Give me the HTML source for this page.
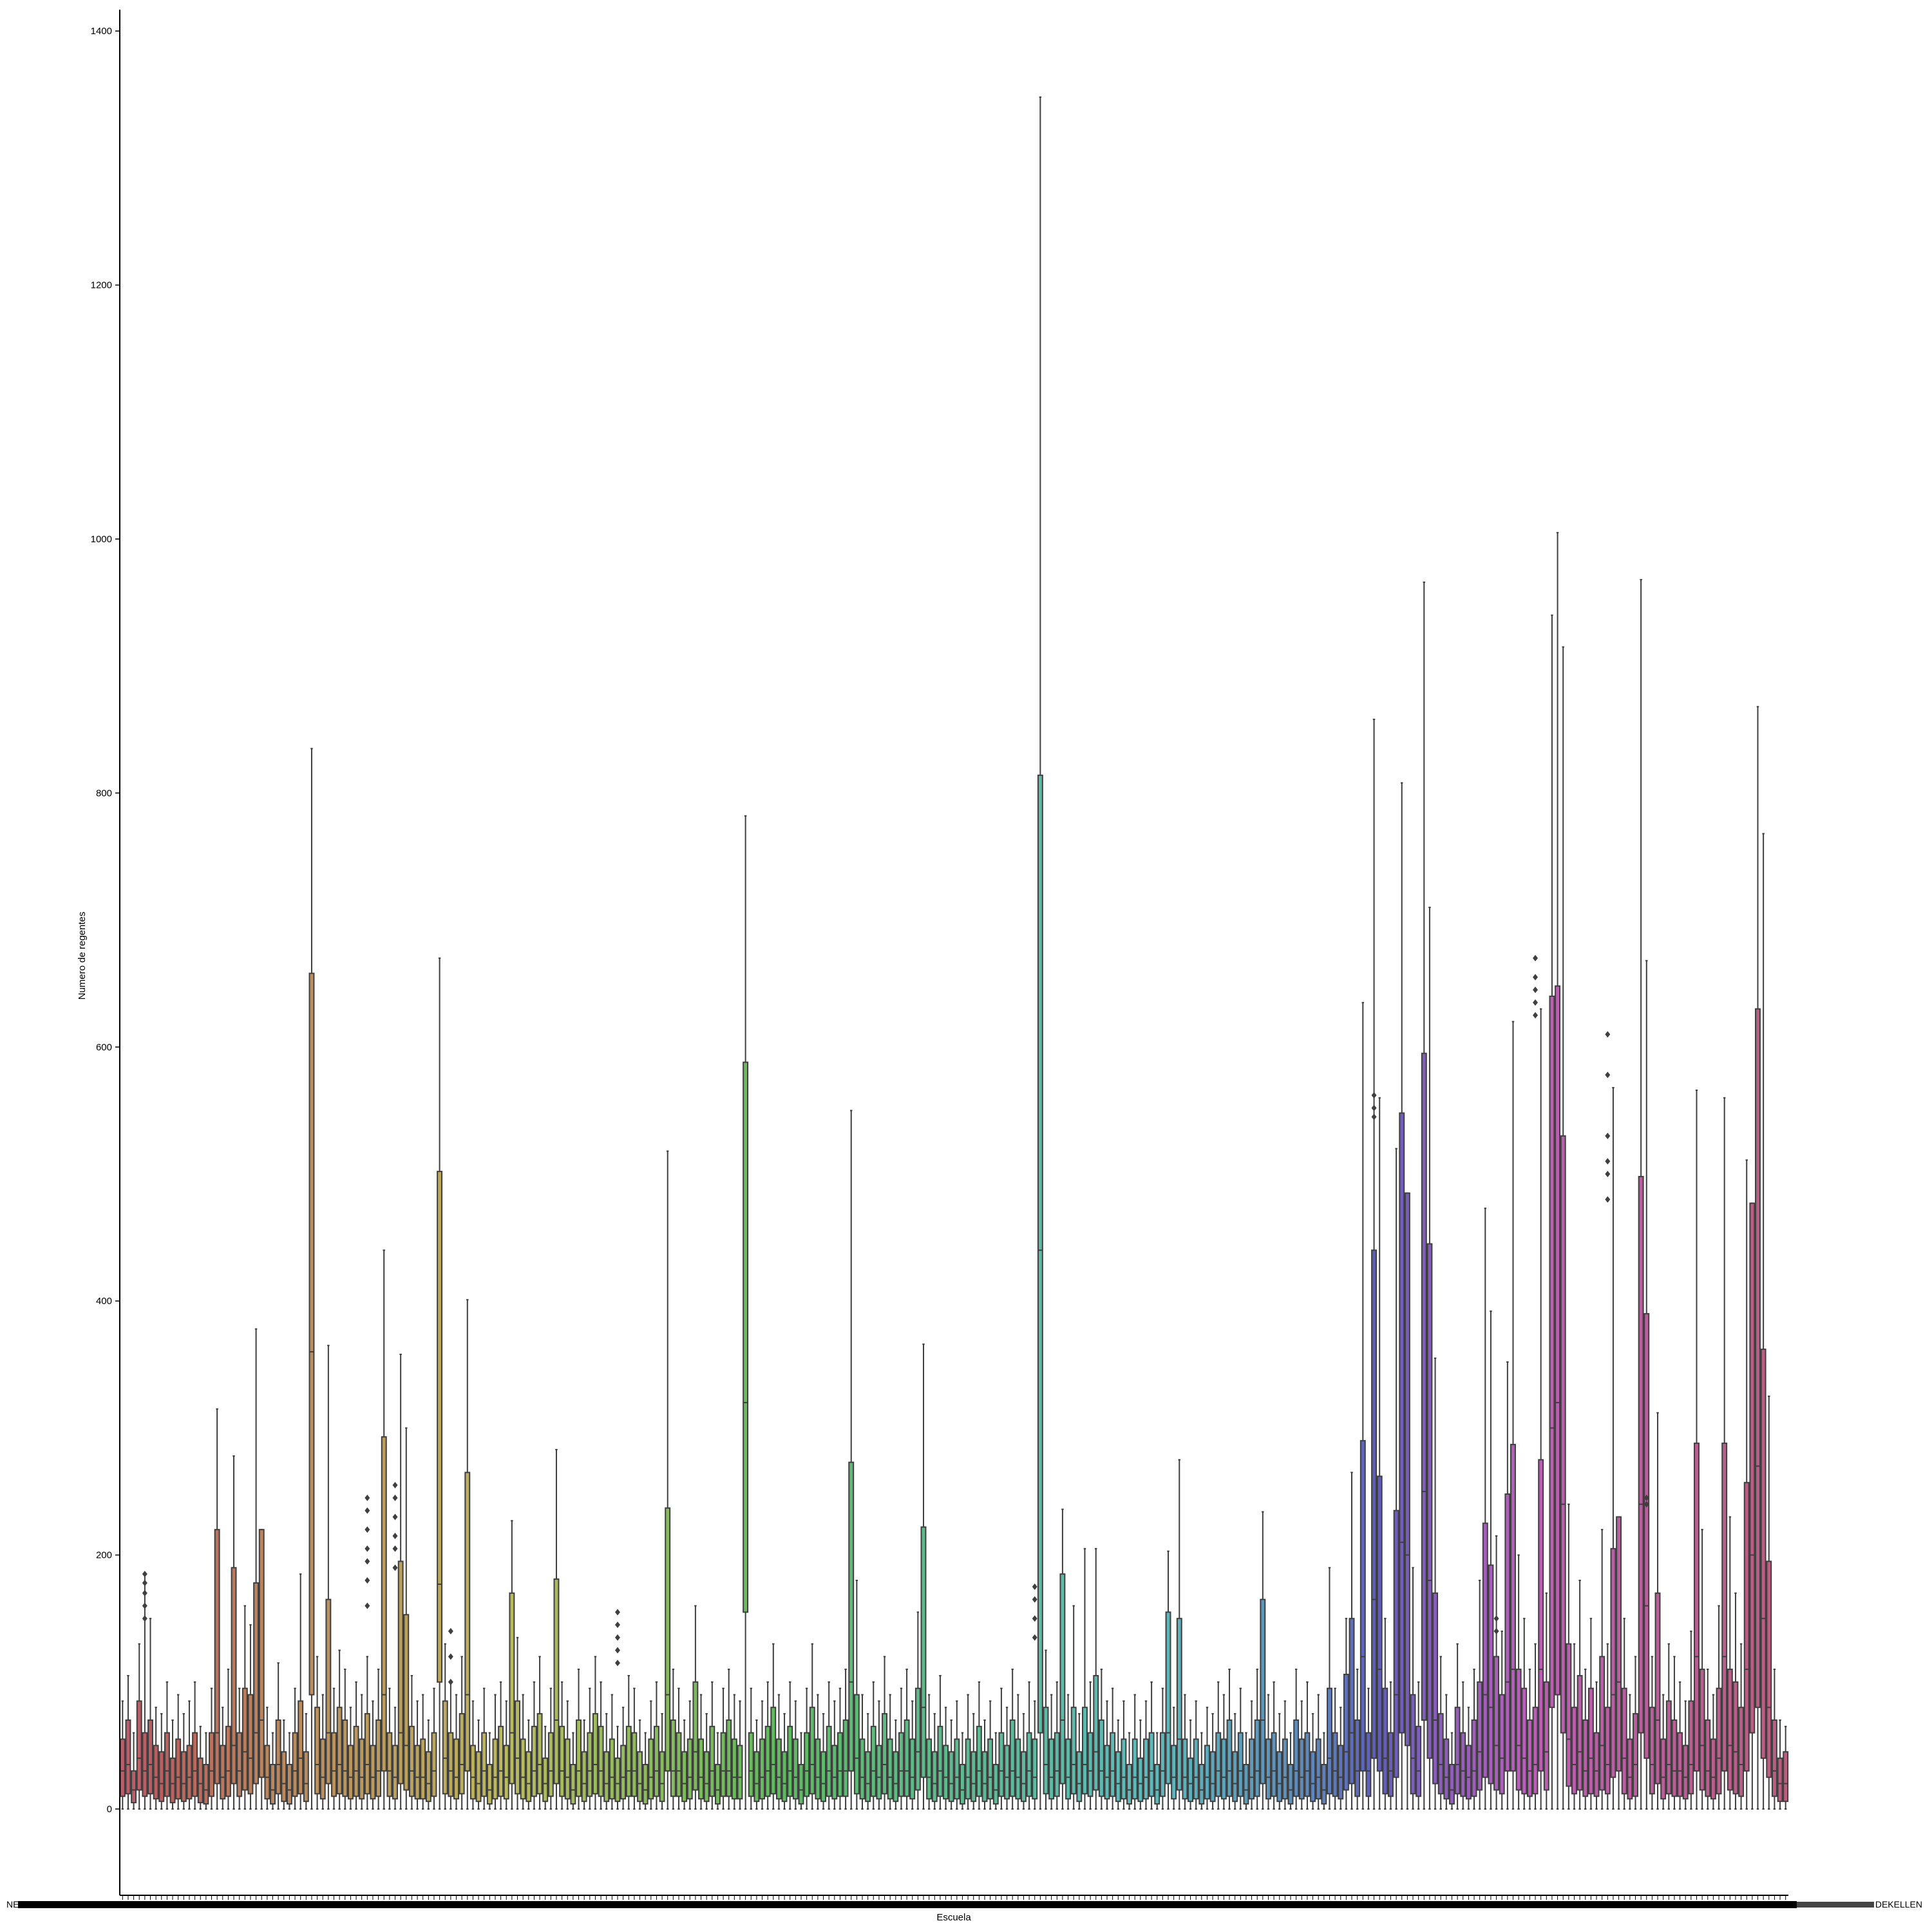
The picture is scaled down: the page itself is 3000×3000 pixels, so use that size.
<!DOCTYPE html>
<html><head><meta charset="utf-8"><style>
html,body{margin:0;padding:0;background:#fff;}
svg{display:block;font-family:"Liberation Sans","DejaVu Sans",sans-serif;}
</style></head><body>
<svg id="chart" width="3000" height="3000" viewBox="0 0 3000 3000" xmlns="http://www.w3.org/2000/svg">
<rect width="3000" height="3000" fill="#fff"/>
<g id="marks"></g>
<g id="axes"></g>
</svg>
<script>
const hiW=[85,105,60,130,185,150,80,75,100,70,90,75,85,100,65,60,95,315,80,110,278,95,160,145,378,220,80,60,115,70,60,95,185,75,835,120,90,365,95,125,110,80,100,90,120,85,110,440,95,80,358,300,105,85,90,70,95,670,130,100,90,120,401,85,70,95,60,90,100,85,227,135,90,70,100,120,65,95,283,100,85,60,110,70,95,120,100,75,90,65,80,105,95,70,60,85,100,75,518,110,95,70,85,160,90,75,100,60,95,110,90,85,782,95,70,85,100,130,90,75,100,85,60,95,130,90,75,100,85,95,110,550,180,90,75,100,85,120,90,70,95,110,85,155,366,90,75,105,80,70,85,60,90,75,100,70,85,60,95,80,110,90,75,100,85,1348,125,90,100,236,90,160,75,205,100,205,110,85,95,70,85,60,90,70,85,100,60,95,203,80,275,90,70,85,60,80,75,100,90,110,75,95,60,85,110,234,90,100,75,85,60,110,85,100,75,90,60,190,95,80,150,265,110,635,95,858,560,150,100,520,808,485,190,100,966,710,355,120,90,60,130,100,80,110,180,473,392,215,140,352,620,200,150,110,130,630,170,940,1005,915,240,130,180,110,150,100,220,130,568,230,150,90,120,968,668,120,312,90,130,120,100,85,140,566,220,110,90,160,560,230,170,130,511,477,868,768,325,110,70,65];
const q3=[55,70,30,85,60,70,50,45,60,40,55,45,50,60,40,35,60,220,50,65,190,60,95,90,178,220,50,35,70,45,35,60,85,45,658,80,55,165,60,80,70,50,65,55,75,50,70,293,60,50,195,153,65,50,55,45,60,502,85,60,55,75,265,50,45,60,35,55,65,50,170,85,55,45,65,75,40,60,181,65,55,35,70,45,60,75,65,45,55,40,50,65,60,45,35,55,65,45,237,70,60,45,55,100,55,45,65,35,60,70,55,50,588,60,45,55,65,80,55,45,65,55,35,60,80,55,45,65,50,60,70,273,90,55,45,65,50,75,55,45,60,70,55,95,222,55,45,65,50,45,55,35,55,45,65,45,55,35,60,50,70,55,45,60,55,814,80,55,60,185,55,80,45,80,60,105,70,50,60,45,55,35,55,40,55,60,35,60,155,50,150,55,40,55,35,50,45,60,55,70,45,60,35,55,70,165,55,60,45,55,35,70,55,60,45,55,35,95,60,50,106,150,70,290,60,440,262,95,60,235,548,485,90,65,595,445,170,75,55,35,80,60,50,70,100,225,192,120,90,248,287,110,95,70,80,275,100,640,648,530,130,80,105,70,95,60,120,80,205,230,95,55,75,498,390,80,170,55,85,70,60,50,85,288,110,70,55,95,288,110,100,80,257,477,630,362,195,70,40,45];
const med=[30,35,15,40,30,35,25,20,30,20,25,20,25,30,20,15,30,60,25,30,50,30,45,40,60,70,25,15,35,20,15,30,40,20,360,35,25,60,30,35,30,25,30,25,35,25,30,90,30,25,60,50,30,25,25,20,30,177,40,30,25,35,90,25,20,30,15,25,30,25,60,40,25,20,30,35,20,30,70,30,25,15,30,20,30,35,30,20,25,20,25,30,30,20,15,25,30,20,90,30,30,20,25,45,25,20,30,15,30,30,25,25,320,30,20,25,30,35,25,20,30,25,15,30,35,25,20,30,25,30,30,100,40,25,20,30,25,35,25,20,30,30,25,45,80,25,20,30,25,20,25,15,25,20,30,20,25,15,30,25,30,25,20,30,25,440,35,25,30,70,25,35,20,35,30,45,30,25,30,20,25,15,25,20,25,30,15,30,60,25,55,25,20,25,15,25,20,30,25,30,20,30,15,25,30,70,25,30,20,25,15,30,25,30,20,25,15,40,30,25,45,60,30,120,30,165,110,40,30,90,210,200,40,30,250,180,70,35,25,15,35,30,25,30,45,90,80,50,40,100,110,50,40,30,35,110,45,300,320,240,55,35,45,30,40,30,50,35,90,100,40,25,35,240,160,35,70,25,35,30,30,25,35,120,50,30,25,40,120,50,45,35,110,200,270,150,80,30,20,20];
const q1=[10,12,5,15,10,12,8,6,10,5,8,6,8,10,5,4,10,20,8,10,20,10,15,12,20,25,8,4,12,6,4,10,12,6,90,12,8,20,10,12,10,8,10,8,12,8,10,30,10,8,20,15,10,8,8,6,10,100,12,10,8,12,30,8,6,10,4,8,10,8,20,12,8,6,10,12,6,10,20,10,8,4,10,6,10,12,10,6,8,6,8,10,10,6,4,8,10,6,30,10,10,6,8,15,8,6,10,4,10,10,8,8,155,10,6,8,10,12,8,6,10,8,4,10,12,8,6,10,8,10,10,30,12,8,6,10,8,12,8,6,10,10,8,15,25,8,6,10,8,6,8,4,8,6,10,6,8,4,10,8,10,8,6,10,8,60,12,8,10,20,8,12,6,12,10,15,10,8,10,6,8,4,8,6,8,10,4,10,20,8,15,8,6,8,4,8,6,10,8,10,6,10,4,8,10,20,8,10,6,8,4,10,8,10,6,8,4,12,10,8,15,20,10,30,10,40,30,12,10,25,60,50,12,10,70,40,20,12,8,4,12,10,8,10,15,25,20,15,12,30,30,15,12,10,12,30,15,80,90,60,18,12,15,10,12,10,15,12,25,30,12,8,10,60,40,12,20,8,12,10,10,8,12,30,15,10,8,12,30,15,12,10,30,60,80,40,25,10,6,6];
const flierIdx=[4,4,4,4,4,44,44,44,44,44,44,44,49,49,49,49,49,49,59,59,59,89,89,89,89,89,164,164,164,164,225,225,225,247,247,254,254,254,254,254,267,267,267,267,267,267,274,274];
const flierVal=[150,160,170,178,185,160,180,195,205,220,235,245,190,205,215,230,245,255,100,120,140,115,125,135,145,155,135,150,165,175,545,552,562,140,150,625,635,645,655,670,480,500,510,530,578,610,240,245];
const yTicks=[0,200,400,600,800,1000,1200,1400];

const NS="http://www.w3.org/2000/svg";
const X0=186,X1=2777,Y0=2809,PX=1.972,N=hiW.length,SLOT=(X1-X0)/N;
function y(v){return Y0-v*PX;}
function xc(i){return X0+SLOT*(i+0.5);}
const hs=[[0,350],[25,385],[60,410],[95,450],[135,500],[190,545],[215,575],[235,625],[255,665],[300,700]];
function hue(i){for(let k=0;k<hs.length-1;k++){if(i<=hs[k+1][0]){const t=(i-hs[k][0])/(hs[k+1][0]-hs[k][0]);return (hs[k][1]+t*(hs[k+1][1]-hs[k][1]))%360;}}return 340;}
function mk(tag,attrs,parent){const e=document.createElementNS(NS,tag);for(const k in attrs)e.setAttribute(k,attrs[k]);parent.appendChild(e);return e;}
const g=document.getElementById('marks');
const st='#3f3f3f';
for(let i=0;i<N;i++){
  const cx=xc(i),w=SLOT*0.8;
  const bg=mk('g',{},g);
  
  
  mk('line',{x1:cx,x2:cx,y1:y(q3[i]),y2:y(hiW[i]),stroke:st,'stroke-width':2},bg);
  mk('line',{x1:cx,x2:cx,y1:y(q1[i]),y2:y(0),stroke:st,'stroke-width':2},bg);
  mk('line',{x1:cx-w/4,x2:cx+w/4,y1:y(hiW[i]),y2:y(hiW[i]),stroke:st,'stroke-width':2},bg);
  mk('line',{x1:cx-w/4,x2:cx+w/4,y1:y(0),y2:y(0),stroke:st,'stroke-width':2},bg);
  mk('rect',{x:cx-w/2,y:y(q3[i]),width:w,height:Math.max(1,y(q1[i])-y(q3[i])),fill:'hsl('+hue(i)+',40%,55%)',stroke:st,'stroke-width':2},bg);
  mk('line',{x1:cx-w/2,x2:cx+w/2,y1:y(med[i]),y2:y(med[i]),stroke:st,'stroke-width':2},bg);
}
for(let j=0;j<flierIdx.length;j++){
  const c=mk('path',{d:'M'+xc(flierIdx[j])+' '+(y(flierVal[j])-5)+' l4 5 l-4 5 l-4 -5 z',fill:st},g);
  
  
}
const a=document.getElementById('axes');
const ls=mk('line',{x1:X0,x2:X0,y1:15,y2:2943,stroke:'#000','stroke-width':2},a);


const bs=mk('line',{x1:X0,x2:X1,y1:2943,y2:2943,stroke:'#000','stroke-width':2},a);


yTicks.forEach(v=>{
  mk('line',{x1:X0-7,x2:X0,y1:y(v),y2:y(v),stroke:'#000','stroke-width':1.5},a);
  const t=mk('text',{x:X0-12,y:y(v)+5,'text-anchor':'end','font-size':15,fill:'#000'},a);
  t.textContent=v;
  
  
});
for(let i=0;i<N;i++){mk('line',{x1:xc(i),x2:xc(i),y1:2943,y2:2950,stroke:'#000','stroke-width':1},a);}
const band=mk('rect',{x:28,y:2952,width:2762,height:11,fill:'#000'},a);


const band2=mk('rect',{x:2790,y:2953,width:120,height:9,fill:'#444'},a);


const t1=mk('text',{x:10,y:2962,'font-size':14,fill:'#000'},a);t1.textContent='NEW';


const t2=mk('text',{x:2985,y:2962,'text-anchor':'end','font-size':14,fill:'#000'},a);t2.textContent='DEKELLEN';


const xl=mk('text',{x:1481,y:2982,'text-anchor':'middle','font-size':15,fill:'#000'},a);xl.textContent='Escuela';


const yl=mk('text',{x:0,y:0,'text-anchor':'middle','font-size':15,fill:'#000',transform:'translate(132,1484) rotate(-90)'},a);yl.textContent='Numero de regentes';


</script>
</body></html>
